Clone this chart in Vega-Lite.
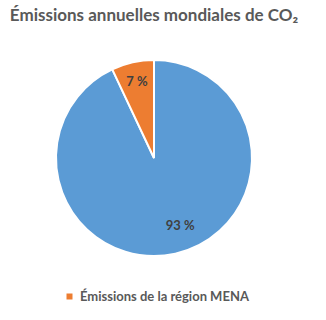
{
  "$schema": "https://vega.github.io/schema/vega-lite/v6.json",
  "autosize": "none",
  "width": 196,
  "height": 196,
  "padding": {"left": 56, "top": 60, "right": 74, "bottom": 64},
  "background": "white",
  "title": {
    "text": "Émissions annuelles mondiales de CO₂",
    "font": "Lato",
    "fontSize": 17,
    "fontWeight": "bold",
    "color": "#595959",
    "anchor": "middle",
    "offset": 31
  },
  "data": {
    "values": [
      {"categorie": "Reste du monde", "part": 93, "label": "93 %", "ordre": 1},
      {"categorie": "Émissions de la région MENA", "part": 7, "label": "7 %", "ordre": 2}
    ]
  },
  "encoding": {
    "theta": {"field": "part", "type": "quantitative", "stack": true},
    "order": {"field": "ordre", "type": "quantitative"},
    "detail": {"field": "categorie", "type": "nominal"}
  },
  "layer": [
    {
      "mark": {"type": "arc", "outerRadius": 98, "stroke": "white", "strokeWidth": 2},
      "encoding": {
        "color": {
          "field": "categorie",
          "type": "nominal",
          "scale": {
            "domain": ["Reste du monde", "Émissions de la région MENA"],
            "range": ["#5B9BD5", "#ED7D31"]
          },
          "legend": {
            "values": ["Émissions de la région MENA"],
            "orient": "bottom",
            "title": null,
            "offset": 27,
            "padding": 7,
            "labelLimit": 400,
            "labelFont": "Lato",
            "labelFontSize": 13,
            "labelFontWeight": "bold",
            "labelColor": "#595959",
            "symbolType": "square",
            "symbolSize": 36,
            "symbolStrokeWidth": 0
          }
        }
      }
    },
    {
      "mark": {"type": "text", "radius": 78, "font": "Lato", "fontSize": 13, "fontWeight": "bold", "fill": "#404040"},
      "encoding": {
        "text": {"condition": {"test": "datum.ordre == 2", "field": "label"}, "value": ""}
      }
    },
    {
      "mark": {"type": "text", "radius": 73, "thetaOffset": -0.147, "font": "Lato", "fontSize": 13, "fontWeight": "bold", "fill": "#404040"},
      "encoding": {
        "text": {"condition": {"test": "datum.ordre == 1", "field": "label"}, "value": ""}
      }
    }
  ]
}
